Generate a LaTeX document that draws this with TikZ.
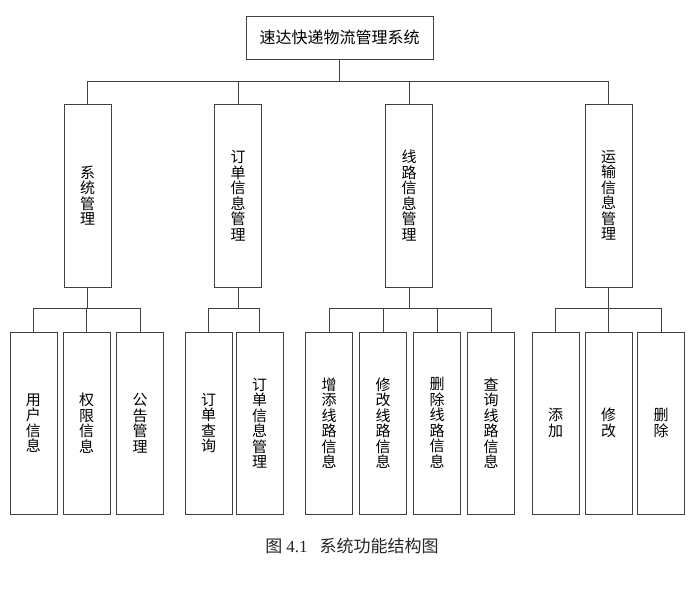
\documentclass[tikz,border=0pt]{standalone}
\usepackage{fontspec}
\newfontfamily\cjk{Noto Sans CJK SC}
\newfontfamily\latinserif{Liberation Serif}
\begin{document}
\begin{tikzpicture}[x=1pt,y=-1pt,
  boxline/.style={draw=black!75,line width=0.9pt},
  topbox/.style={boxline,rectangle,inner sep=0pt,minimum width=187pt,minimum height=43pt,font={\cjk\fontsize{16}{18}\selectfont}},
  midbox/.style={boxline,rectangle,inner sep=0pt,minimum width=47pt,minimum height=183pt,align=center,font={\cjk\fontsize{15}{15.5}\selectfont}},
  leafbox/.style={boxline,rectangle,inner sep=0pt,minimum width=47pt,minimum height=182pt,align=center,font={\cjk\fontsize{15}{15.5}\selectfont}},
  conn/.style={draw=black!75,line width=0.9pt}]
\useasboundingbox (0,0) rectangle (697,596);
\fill[white] (0,0) rectangle (697,596);

\node[topbox] (top) at (339.5,37.5) {速达快递物流管理系统};

\node[midbox] (m1) at (87.5,195.5) {系\\统\\管\\理};
\node[midbox] (m2) at (238,195.5) {订\\单\\信\\息\\管\\理};
\node[midbox] (m3) at (409,195.5) {线\\路\\信\\息\\管\\理};
\node[midbox] (m4) at (608.5,195.5) {运\\输\\信\\息\\管\\理};

\node[leafbox] (a1) at (33.5,423) {用\\户\\信\\息};
\node[leafbox] (a2) at (86.5,423) {权\\限\\信\\息};
\node[leafbox] (a3) at (140,423) {公\\告\\管\\理};
\node[leafbox] (b1) at (208.5,423) {订\\单\\查\\询};
\node[leafbox] (b2) at (259.5,423) {订\\单\\信\\息\\管\\理};
\node[leafbox] (c1) at (329,423) {增\\添\\线\\路\\信\\息};
\node[leafbox] (c2) at (383,423) {修\\改\\线\\路\\信\\息};
\node[leafbox] (c3) at (437,423) {删\\除\\线\\路\\信\\息};
\node[leafbox] (c4) at (491,423) {查\\询\\线\\路\\信\\息};
\node[leafbox] (d1) at (555.5,423) {添\\加};
\node[leafbox] (d2) at (608.5,423) {修\\改};
\node[leafbox] (d3) at (661,423) {删\\除};

\foreach \c in {m1,m2,m3,m4}
  \draw[conn] (top.south) -- ++(0,22) -| (\c.north);
\foreach \c in {a1,a2,a3}
  \draw[conn] (m1.south) -- ++(0,21) -| (\c.north);
\foreach \c in {b1,b2}
  \draw[conn] (m2.south) -- ++(0,21) -| (\c.north);
\foreach \c in {c1,c2,c3,c4}
  \draw[conn] (m3.south) -- ++(0,21) -| (\c.north);
\foreach \c in {d1,d2,d3}
  \draw[conn] (m4.south) -- ++(0,21) -| (\c.north);

\node[font={\cjk\fontsize{17}{20}\selectfont},text=black!85] (cap) at (352,546) {图\hspace{4pt}{\latinserif 4.1}\hspace{12pt}系统功能结构图};
\end{tikzpicture}
\end{document}
